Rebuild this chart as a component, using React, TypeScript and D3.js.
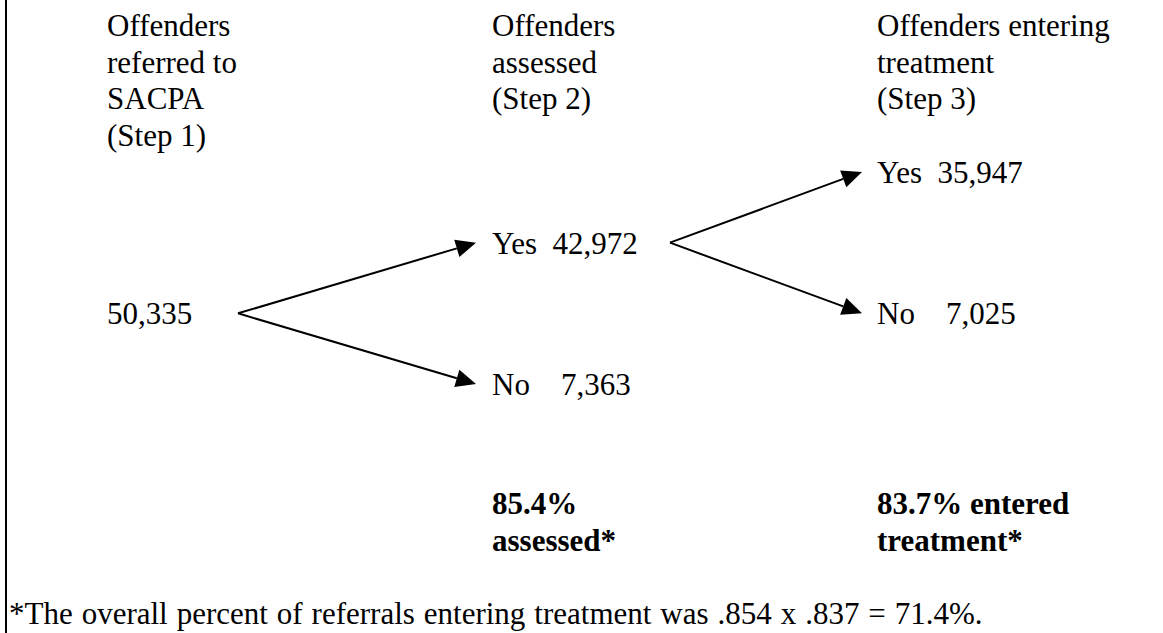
import { useEffect, useRef } from "react";
import * as d3 from "d3";

// Column headers (one array of lines per step)
const stepHeaders = [
  ["Offenders", "referred to", "SACPA", "(Step 1)"],
  ["Offenders", "assessed", "(Step 2)"],
  ["Offenders entering", "treatment", "(Step 3)"],
];

// Counts at each node
const referredTotal = 50335;
const assessedYes = 42972;
const assessedNo = 7363;
const treatmentYes = 35947;
const treatmentNo = 7025;

// Summary rates (bold, under columns 2 and 3)
const summaryLines = [
  ["85.4%", "assessed*"],
  ["83.7% entered", "treatment*"],
];

const footnote = "*The overall percent of referrals entering treatment was .854 x .837 = 71.4%.";

const fmt = d3.format(",");

const App = () => {
  const svgRef = useRef<SVGSVGElement | null>(null);
  const width = 1163;
  const height = 633;

  useEffect(() => {
    if (!svgRef.current) return;
    const svg = d3.select(svgRef.current);
    svg.selectAll("*").remove();

    const font = "'Liberation Serif', 'Times New Roman', serif";
    const fontSize = 31;

    // column x (left edge of text) and row y (centre of arrow endpoints)
    const x = d3.scaleLinear().domain([0, 2]).range([107, 877]);
    const row = d3.scaleLinear().domain([0, 3]).range([172, 384]);
    const baseline = (r: number) => row(r) + 11;

    svg.attr("width", width).attr("height", height);

    // left border line
    svg.append("line")
      .attr("x1", 6).attr("y1", 0)
      .attr("x2", 6).attr("y2", height)
      .attr("stroke", "#000")
      .attr("stroke-width", 2);

    // headers
    stepHeaders.forEach((lines, i) => {
      lines.forEach((line, j) => {
        svg.append("text")
          .attr("x", x(i))
          .attr("y", 36 + j * 36.5)
          .attr("font-family", font)
          .attr("font-size", fontSize)
          .text(line);
      });
    });

    // node labels
    const nodes = [
      { col: 0, r: 2, label: fmt(referredTotal) },
      { col: 1, r: 1, label: `Yes\u00a0\u00a0${fmt(assessedYes)}` },
      { col: 1, r: 3, label: `No\u00a0\u00a0\u00a0\u00a0${fmt(assessedNo)}` },
      { col: 2, r: 0, label: `Yes\u00a0\u00a0${fmt(treatmentYes)}` },
      { col: 2, r: 2, label: `No\u00a0\u00a0\u00a0\u00a0${fmt(treatmentNo)}` },
    ];
    nodes.forEach(n => {
      svg.append("text")
        .attr("x", x(n.col))
        .attr("y", baseline(n.r))
        .attr("font-family", font)
        .attr("font-size", fontSize)
        .text(n.label);
    });

    // branching arrows
    const branches = [
      { from: { x: 238, r: 2 }, to: [{ x: x(1) - 16, r: 1 }, { x: x(1) - 16, r: 3 }] },
      { from: { x: 670, r: 1 }, to: [{ x: x(2) - 15, r: 0 }, { x: x(2) - 15, r: 2 }] },
    ];
    const headLen = 20;
    const headHalf = 9;
    branches.forEach(b => {
      const x0 = b.from.x;
      const y0 = row(b.from.r);
      b.to.forEach(t => {
        const x1 = t.x;
        const y1 = row(t.r);
        const ang = Math.atan2(y1 - y0, x1 - x0);
        const bx = x1 - headLen * Math.cos(ang);
        const by = y1 - headLen * Math.sin(ang);
        svg.append("line")
          .attr("x1", x0).attr("y1", y0)
          .attr("x2", bx).attr("y2", by)
          .attr("stroke", "#000")
          .attr("stroke-width", 2);
        const px = -Math.sin(ang) * headHalf;
        const py = Math.cos(ang) * headHalf;
        svg.append("path")
          .attr("d", `M${x1},${y1}L${bx + px},${by + py}L${bx - px},${by - py}Z`)
          .attr("fill", "#000");
      });
    });

    // bold summaries
    summaryLines.forEach((lines, i) => {
      lines.forEach((line, j) => {
        svg.append("text")
          .attr("x", x(i + 1))
          .attr("y", 514 + j * 36.5)
          .attr("font-family", font)
          .attr("font-size", fontSize)
          .attr("font-weight", "bold")
          .text(line);
      });
    });

    // footnote
    svg.append("text")
      .attr("x", 9)
      .attr("y", 624)
      .attr("font-family", font)
      .attr("font-size", fontSize)
      .attr("word-spacing", 1.2)
      .text(footnote);
  }, []);

  return (
    <svg
      ref={svgRef}
      style={{ position: "absolute", left: 0, top: 0, background: "#fff" }}
    />
  );
};

export default App;
